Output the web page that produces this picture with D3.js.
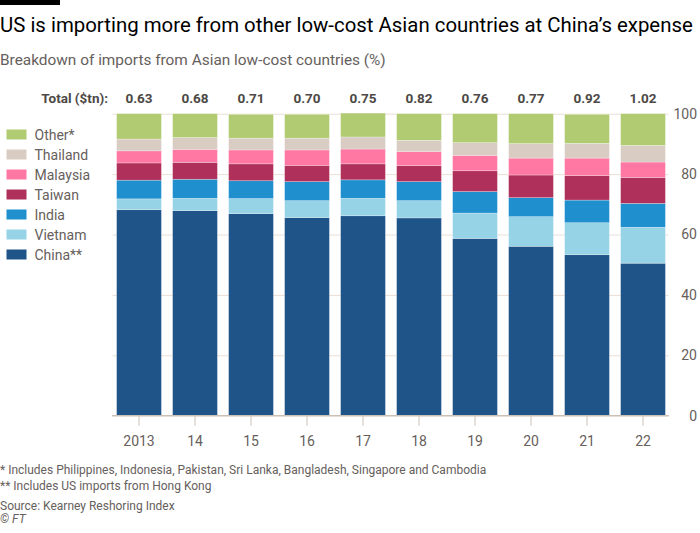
<!DOCTYPE html>
<html>
<head>
<meta charset="utf-8">
<script src="https://cdn.jsdelivr.net/npm/d3@7"></script>
<style>
  body { margin: 0; background: #fff; }
  svg { display: block; }
  text { font-family: Roboto, "Noto Sans", sans-serif; }
</style>
</head>
<body>
<svg id="chart" width="700" height="533"></svg>
<script>
const years = ["2013", "2014", "2015", "2016", "2017", "2018", "2019", "2020", "2021", "2022"];
const yearLabels = ["2013", "14", "15", "16", "17", "18", "19", "20", "21", "22"];
const totals = ["0.63", "0.68", "0.71", "0.70", "0.75", "0.82", "0.76", "0.77", "0.92", "1.02"];
const seriesNames = ["China**", "Vietnam", "India", "Taiwan", "Malaysia", "Thailand", "Other*"];
const china    = [68.2, 67.9, 66.9, 65.6, 66.2, 65.5, 58.7, 56.1, 53.3, 50.5];
const vietnam  = [3.6, 4.1, 5.0, 5.6, 5.8, 5.7, 8.4, 9.8, 10.6, 11.9];
const india    = [6.2, 6.3, 5.9, 6.3, 6.1, 6.3, 7.1, 6.3, 7.5, 7.9];
const taiwan   = [5.7, 5.6, 5.6, 5.4, 5.3, 5.3, 6.9, 7.5, 8.1, 8.6];
const malaysia = [4.0, 4.3, 4.6, 5.1, 4.9, 4.7, 5.1, 5.6, 5.8, 5.1];
const thailand = [3.9, 3.9, 3.9, 3.9, 4.0, 3.7, 4.2, 4.8, 4.9, 5.5];
const other    = [8.4, 7.9, 7.9, 7.9, 7.9, 8.8, 9.6, 9.9, 9.6, 10.5];
const yTicks = [0, 20, 40, 60, 80, 100];
const colors = ["#1f5489", "#96d3e6", "#1f8fcd", "#b0305c", "#ff78a3", "#d9ccc2", "#b0cb72"];

const seriesValues = [china, vietnam, india, taiwan, malaysia, thailand, other];
const table = years.map((yr, i) => {
  const row = { year: yr };
  seriesNames.forEach((s, j) => row[s] = seriesValues[j][i]);
  return row;
});

const svg = d3.select("#chart");

// Top black bar
svg.append("rect").attr("x", 0).attr("y", 0).attr("width", 60).attr("height", 5).attr("fill", "#000");

svg.append("text").attr("x", 0).attr("y", 32)
  .attr("font-size", 20.4).attr("fill", "#000")
  .text("US is importing more from other low-cost Asian countries at China\u2019s expense");

svg.append("text").attr("x", 0).attr("y", 65)
  .attr("font-size", 15.4).attr("fill", "#66605c")
  .text("Breakdown of imports from Asian low-cost countries (%)");

const x = d3.scaleBand().domain(years).range([111, 671]).paddingInner(0.2).paddingOuter(0.1);
const y = d3.scaleLinear().domain([0, 100]).range([415.7, 113.7]);

// gridlines
const yAxis = d3.axisRight(y).tickValues(yTicks).tickSize(556).tickFormat(d => d);
const gy = svg.append("g").attr("transform", "translate(112.5,0)").call(yAxis);
gy.select(".domain").remove();
gy.selectAll(".tick line").attr("stroke", "#e9ded5").attr("stroke-width", 1);
gy.selectAll(".tick text")
  .attr("x", 584.5).attr("text-anchor", "end")
  .attr("font-size", 14).attr("fill", "#66605c").attr("font-family", "Roboto, sans-serif");

const stack = d3.stack().keys(seriesNames);
const stacked = stack(table);

svg.append("g").selectAll("g").data(stacked).join("g")
  .attr("fill", (d, i) => colors[i])
  .selectAll("rect").data(d => d).join("rect")
  .attr("x", d => x(d.data.year))
  .attr("width", x.bandwidth())
  .attr("y", d => y(d[1]))
  .attr("height", d => y(d[0]) - y(d[1]))
  .attr("stroke", "rgba(255,255,255,0.45)")
  .attr("stroke-width", 0.6);

// baseline and x axis
const xAxis = d3.axisBottom(x).tickSize(10).tickFormat((d, i) => yearLabels[i]);
const gx = svg.append("g").attr("transform", `translate(0,${y(0)})`).call(xAxis);
gx.select(".domain").remove();
gx.selectAll(".tick line").attr("stroke", "#ccc1b7");
gx.selectAll(".tick text").attr("y", 20).attr("dy", "0.71em")
  .attr("font-size", 14).attr("fill", "#66605c").attr("font-family", "Roboto, sans-serif");
svg.append("line").attr("x1", 112).attr("x2", 669).attr("y1", y(0)).attr("y2", y(0))
  .attr("stroke", "#ccc1b7").attr("stroke-width", 1.2);

// Totals
svg.append("text").attr("x", 108).attr("y", 102.5).attr("text-anchor", "end")
  .attr("font-size", 13.5).attr("font-weight", "bold").attr("fill", "#4d4845")
  .text("Total ($tn):");
svg.append("g").selectAll("text").data(years).join("text")
  .attr("x", d => x(d) + x.bandwidth() / 2).attr("y", 102.5)
  .attr("text-anchor", "middle").attr("font-size", 13.5).attr("font-weight", "bold")
  .attr("fill", "#4d4845")
  .text((d, i) => totals[i]);

// Legend
const legendOrder = seriesNames.slice().reverse();
const lg = svg.append("g").selectAll("g").data(legendOrder).join("g")
  .attr("transform", (d, i) => `translate(6.5,${129.5 + i * 20})`);
lg.append("rect").attr("width", 20).attr("height", 10)
  .attr("fill", d => colors[seriesNames.indexOf(d)]);
lg.append("text").attr("x", 28).attr("y", 10).attr("font-size", 14).attr("fill", "#66605c")
  .text(d => d);

// Footnotes
const notes = [
  ["* Includes Philippines, Indonesia, Pakistan, Sri Lanka, Bangladesh, Singapore and Cambodia", 474, "normal"],
  ["** Includes US imports from Hong Kong", 490, "normal"],
  ["Source: Kearney Reshoring Index", 510, "normal"],
  ["\u00a9 FT", 523, "italic"]
];
svg.append("g").selectAll("text").data(notes).join("text")
  .attr("x", 0).attr("y", d => d[1]).attr("font-size", 12).attr("fill", "#66605c")
  .attr("font-style", d => d[2])
  .text(d => d[0]);
</script>
</body>
</html>
